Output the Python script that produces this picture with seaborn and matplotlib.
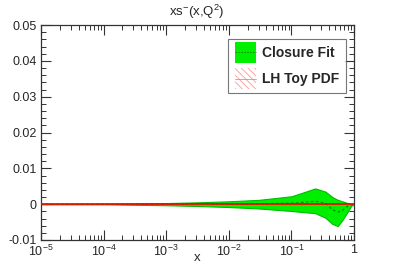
import numpy as np
import pandas as pd
import matplotlib
matplotlib.use("Agg")
import matplotlib.pyplot as plt
import matplotlib.patches as mpatches
import matplotlib.lines as mlines
from matplotlib.legend_handler import HandlerBase
import seaborn as sns

# ---- data ----
x_vals = [1e-5, 1e-4, 1e-3, 3e-3, 1e-2, 3e-2, 0.1, 0.15, 0.24, 0.35, 0.45, 0.55, 0.65, 0.8, 0.9, 1.0]
fit_upper = [0.0, 0.00005, 0.0003, 0.0005, 0.0008, 0.0012, 0.0022, 0.0032, 0.0044, 0.0035, 0.0020, 0.0012, 0.0008, 0.0003, 0.0001, 0.0]
fit_lower = [0.0, -0.00005, -0.0003, -0.0005, -0.0008, -0.0012, -0.0019, -0.0022, -0.0025, -0.0038, -0.0055, -0.0061, -0.0045, -0.0020, -0.0005, 0.0]
fit_central = [0.0, 0.0, 0.0, 0.0001, 0.0, 0.0001, 0.0003, 0.0005, 0.0008, 0.0003, -0.0015, -0.0022, -0.0018, -0.0005, -0.0002, 0.0]
toy_central = [0.0] * len(x_vals)

xticks = [1e-5, 1e-4, 1e-3, 1e-2, 1e-1, 1]
xticklabels = [r"$10^{-5}$", r"$10^{-4}$", r"$10^{-3}$", r"$10^{-2}$", r"$10^{-1}$", "1"]
yticks = [-0.01, 0, 0.01, 0.02, 0.03, 0.04, 0.05]
yticklabels = ["-0.01", "0", "0.01", "0.02", "0.03", "0.04", "0.05"]

df = pd.DataFrame({"x": x_vals, "fit": fit_central, "toy": toy_central,
                   "up": fit_upper, "lo": fit_lower})

sns.set_style("ticks")
plt.rcParams["font.family"] = ["Liberation Sans", "DejaVu Sans"]
plt.rcParams["mathtext.fontset"] = "custom"
plt.rcParams["mathtext.rm"] = "Liberation Sans"
plt.rcParams["mathtext.it"] = "Liberation Sans"
plt.rcParams["hatch.color"] = "#ff9999"
plt.rcParams["hatch.linewidth"] = 0.6

fig = plt.figure(figsize=(3.94, 2.67), dpi=100)
ax = fig.add_axes([41/394, 1 - 240/267, (354-41)/394, (240-25)/267])

ax.fill_between(df["x"], df["lo"], df["up"], color="#00ee00", lw=0.8, edgecolor="#00bb00", zorder=2)
sns.lineplot(data=df, x="x", y="fit", ax=ax, color="#008800", lw=0.9, linestyle=(0, (2, 2)), zorder=3)
sns.lineplot(data=df, x="x", y="toy", ax=ax, color="red", lw=1.2, zorder=4)

ax.set_xscale("log")
ax.set_xlim(1e-5, 1)
ax.set_ylim(-0.01, 0.05)
ax.set_xticks(xticks)
ax.set_xticklabels(xticklabels, fontsize=9)
ax.set_yticks(yticks)
ax.set_yticklabels(yticklabels, fontsize=9)
ax.yaxis.set_minor_locator(matplotlib.ticker.MultipleLocator(0.002))
ax.xaxis.set_minor_locator(matplotlib.ticker.LogLocator(base=10, subs=np.arange(2, 10), numticks=20))
ax.xaxis.set_minor_formatter(matplotlib.ticker.NullFormatter())
ax.tick_params(which="both", direction="in", top=True, right=True, color="#333333")
ax.tick_params(which="major", length=7, width=0.8, pad=3)
ax.tick_params(which="minor", length=3.5, width=0.7)
for s in ax.spines.values():
    s.set_color("#333333")
    s.set_linewidth(0.9)
ax.set_xlabel("x", fontsize=9.5)
ax.xaxis.set_label_coords(0.5, -(258 - 240) / 215, transform=ax.transAxes)
ax.xaxis.label.set_va("center")
ax.set_ylabel("")
fig.text(197/394, 1 - 12/267, r"xs$^{-}$(x,Q$^{2}$)", ha="center", va="center", fontsize=9.5)


class FitHandler(HandlerBase):
    def create_artists(self, legend, orig_handle, xdescent, ydescent, width, height, fontsize, trans):
        r = mpatches.Rectangle((-xdescent, -ydescent - 3), width, height + 6, facecolor="#00ee00",
                               edgecolor="none", transform=trans)
        l = mlines.Line2D([-xdescent, -xdescent + width], [-ydescent + height / 2] * 2,
                          color="#008800", lw=0.6, linestyle=(0, (2, 1.5)), transform=trans)
        return [r, l]


class ToyHandler(HandlerBase):
    def create_artists(self, legend, orig_handle, xdescent, ydescent, width, height, fontsize, trans):
        r = mpatches.Rectangle((-xdescent, -ydescent - 3), width, height + 6, facecolor="white",
                               edgecolor="#ff9999", hatch="\\\\\\\\\\", lw=0, transform=trans)
        l = mlines.Line2D([-xdescent, -xdescent + width], [-ydescent + height / 2] * 2,
                          color="#ff6666", lw=0.5, transform=trans)
        return [r, l]


h1, h2 = object(), object()
leg = ax.legend([h1, h2], ["Closure Fit", "LH Toy PDF"],
                handler_map={h1: FitHandler(), h2: ToyHandler()},
                loc="upper right", bbox_to_anchor=(346/394, 1 - 39/267), bbox_transform=fig.transFigure,
                prop={"weight": "bold", "size": 10}, frameon=True, fancybox=False,
                handlelength=1.5, handleheight=1.0, labelspacing=0.9, borderpad=0.5, handletextpad=0.4,
                borderaxespad=0)
leg.get_frame().set_edgecolor("#555555")
leg.get_frame().set_linewidth(0.8)

fig.savefig("out.png", dpi=100)
